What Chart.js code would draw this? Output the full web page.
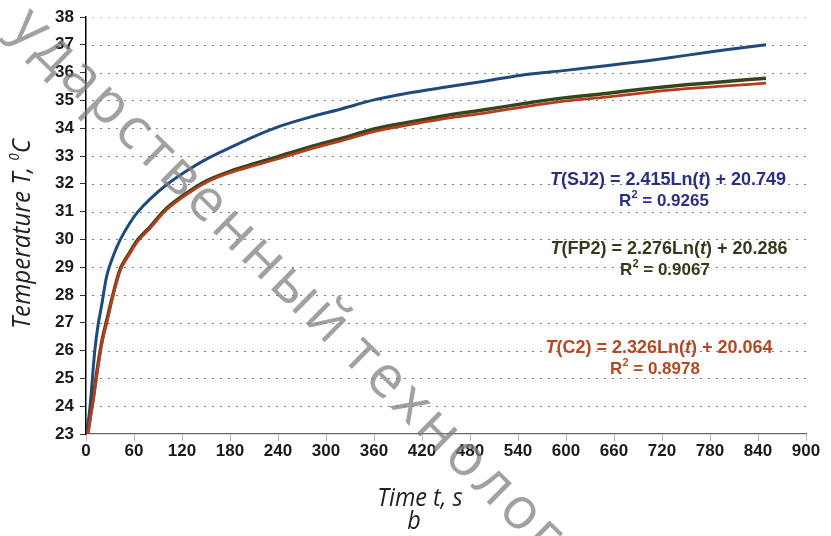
<!DOCTYPE html>
<html>
<head>
<meta charset="utf-8">
<script src="https://cdn.jsdelivr.net/npm/chart.js@4.4.1/dist/chart.umd.min.js"></script>
<style>
  html, body { margin: 0; padding: 0; background: #fff; }
  #wrap { width: 831px; height: 536px; }
</style>
</head>
<body>
<div id="wrap"><canvas id="tempChart" width="831" height="536"></canvas></div>
<script>
// time points, s
const timeSJ2 = [1, 2, 4, 6, 8, 11, 15, 20, 26, 34, 43, 55, 65, 80, 100, 125, 150, 180, 210, 240, 280, 320, 360, 400, 450, 500, 550, 600, 650, 700, 750, 800, 850];
const tempSJ2 = [23.0, 23.3, 23.7, 24.3, 25.0, 26.0, 26.9, 27.7, 28.7, 29.4, 30.0, 30.6, 31.0, 31.45, 31.95, 32.45, 32.88, 33.3, 33.7, 34.05, 34.4, 34.7, 35.02, 35.25, 35.48, 35.7, 35.93, 36.08, 36.25, 36.42, 36.62, 36.82, 37.0];

const timeFP2 = [2, 4, 6, 8, 11, 15, 20, 26, 34, 43, 55, 65, 80, 100, 125, 150, 180, 210, 240, 280, 320, 360, 400, 450, 500, 550, 600, 650, 700, 750, 800, 850];
const tempFP2 = [23.0, 23.35, 23.75, 24.1, 24.7, 25.5, 26.35, 27.1, 28.05, 28.95, 29.55, 30.0, 30.45, 31.1, 31.65, 32.1, 32.45, 32.72, 32.98, 33.33, 33.64, 33.97, 34.2, 34.46, 34.67, 34.9, 35.1, 35.25, 35.42, 35.56, 35.68, 35.8];

const timeC2 = [2, 4, 6, 8, 11, 15, 20, 26, 34, 43, 55, 65, 80, 100, 125, 150, 180, 210, 240, 280, 320, 360, 400, 450, 500, 550, 600, 650, 700, 750, 800, 850];
const tempC2 = [23.0, 23.3, 23.7, 24.0, 24.6, 25.4, 26.3, 27.0, 28.0, 28.9, 29.5, 29.95, 30.4, 31.05, 31.6, 32.05, 32.4, 32.65, 32.9, 33.25, 33.55, 33.88, 34.1, 34.35, 34.55, 34.78, 34.98, 35.12, 35.28, 35.42, 35.52, 35.62];

const xMin = 0, xMax = 900, xStep = 60;
const yMin = 23, yMax = 38, yStep = 1;

// trend-line equations shown on the chart
const equations = [
  {name: 'SJ2', a: '2.415', b: '20.749', r2: '0.9265', color: '#2a2f86', x: 668, y: 180},
  {name: 'FP2', a: '2.276', b: '20.286', r2: '0.9067', color: '#343a1c', x: 669, y: 249},
  {name: 'C2',  a: '2.326', b: '20.064', r2: '0.8978', color: '#b4481e', x: 659, y: 348}
];

const watermark = 'ударственный технолог';

const toXY = (xs, ys) => xs.map((t, i) => ({x: t, y: ys[i]}));

const FONT = '"Liberation Sans", Arial, sans-serif';
const TITLE_FONT = 'italic 26px "Open Sans", sans-serif';

function drawRuns(ctx, runs, cx, cy) {
  let total = 0;
  runs.forEach(r => {
    ctx.font = (r.italic ? 'italic ' : '') + 'bold ' + (r.size || 18) + 'px ' + FONT;
    r.w = ctx.measureText(r.text).width;
    total += r.w;
  });
  let x = cx - total / 2;
  runs.forEach(r => {
    ctx.font = (r.italic ? 'italic ' : '') + 'bold ' + (r.size || 18) + 'px ' + FONT;
    ctx.fillText(r.text, x, cy + (r.dy || 0));
    x += r.w;
  });
}

function narrowText(ctx, text, x, y) {
  ctx.save();
  ctx.translate(x, y);
  ctx.scale(0.9, 1);
  ctx.fillText(text, 0, 0);
  ctx.restore();
}

// dotted horizontal grid lines at the y ticks
const dottedGrid = {
  id: 'dottedGrid',
  beforeDatasetsDraw(chart) {
    const {ctx, chartArea, scales: {y}} = chart;
    ctx.save();
    ctx.lineWidth = 1;
    ctx.setLineDash([2, 6]);
    y.ticks.forEach(t => {
      if (t.value === yMin) return;
      const py = Math.round(y.getPixelForValue(t.value)) + 0.5;
      ctx.strokeStyle = t.value === yMax ? '#c4c4c4' : '#7a7a7a';
      ctx.beginPath();
      ctx.moveTo(chartArea.left + 6, py);
      ctx.lineTo(chartArea.right, py);
      ctx.stroke();
    });
    ctx.restore();
  }
};

const annotations = {
  id: 'annotations',
  afterDraw(chart) {
    const ctx = chart.ctx;
    ctx.save();
    ctx.textBaseline = 'middle';
    ctx.textAlign = 'left';

    equations.forEach(eq => {
      ctx.fillStyle = eq.color;
      drawRuns(ctx, [
        {text: 'T', italic: true},
        {text: '(' + eq.name + ') = ' + eq.a + 'Ln('},
        {text: 't', italic: true},
        {text: ') + ' + eq.b}
      ], eq.x, eq.y);
      drawRuns(ctx, [
        {text: 'R', size: 17},
        {text: '2', size: 11, dy: -6},
        {text: ' = ' + eq.r2, size: 17}
      ], eq.x - 4, eq.y + 21);
    });

    // axis titles
    ctx.fillStyle = '#222';
    ctx.font = TITLE_FONT;
    ctx.textAlign = 'center';
    narrowText(ctx, 'Time t, s', 420, 499);
    narrowText(ctx, 'b', 414, 522);

    ctx.save();
    ctx.translate(23, 234);
    ctx.rotate(-Math.PI / 2);
    ctx.scale(0.93, 1);
    const p1 = 'Temperature T, ', p2 = '0', p3 = 'C';
    ctx.font = TITLE_FONT;
    const w1 = ctx.measureText(p1).width, w3 = ctx.measureText(p3).width;
    ctx.font = 'italic 14px "Open Sans", sans-serif';
    const w2 = ctx.measureText(p2).width;
    let x = -(w1 + w2 + w3) / 2;
    ctx.textAlign = 'left';
    ctx.font = TITLE_FONT;
    ctx.fillText(p1, x, 0); x += w1;
    ctx.font = 'italic 14px "Open Sans", sans-serif';
    ctx.fillText(p2, x, -8); x += w2;
    ctx.font = TITLE_FONT;
    ctx.fillText(p3, x, 0);
    ctx.restore();

    // watermark, letter by letter with wide tracking
    ctx.save();
    ctx.translate(8, 30);
    ctx.rotate(Math.atan2(493, 500));
    ctx.font = '58px "Open Sans", sans-serif';
    ctx.textAlign = 'left';
    ctx.textBaseline = 'alphabetic';
    ctx.fillStyle = 'rgba(125,125,125,0.72)';
    let wx = 0;
    for (const ch of watermark) {
      ctx.fillText(ch, wx, 0);
      wx += ctx.measureText(ch).width + (ch === ' ' ? -2 : 4);
    }
    ctx.restore();

    ctx.restore();
  }
};

new Chart(document.getElementById('tempChart'), {
  type: 'scatter',
  data: {
    datasets: [
      {label: 'SJ2', data: toXY(timeSJ2, tempSJ2), borderColor: '#1f4a7c', borderWidth: 3, order: 3},
      {label: 'FP2', data: toXY(timeFP2, tempFP2), borderColor: '#34461f', borderWidth: 3.5, order: 2},
      {label: 'C2',  data: toXY(timeC2, tempC2),  borderColor: '#b53c1c', borderWidth: 2.8, order: 1}
    ].map(d => Object.assign(d, {showLine: true, pointRadius: 0, tension: 0.3, fill: false}))
  },
  options: {
    responsive: false,
    animation: false,
    layout: {padding: {top: 17, right: 25, left: 0, bottom: 0}},
    plugins: {legend: {display: false}, tooltip: {enabled: false}},
    scales: {
      x: {
        type: 'linear', min: xMin, max: xMax,
        afterFit: s => { s.height = 102; },
        ticks: {stepSize: xStep, color: '#1a1a1a', padding: 0, font: {family: FONT, size: 17, weight: 'bold'}},
        grid: {drawOnChartArea: false, drawTicks: true, tickLength: 7, tickColor: '#bbb'},
        border: {color: '#666', width: 1.2}
      },
      y: {
        min: yMin, max: yMax,
        afterFit: s => { s.width = 86; },
        ticks: {stepSize: yStep, color: '#1a1a1a', padding: 6, font: {family: FONT, size: 17, weight: 'bold'}},
        grid: {drawOnChartArea: false, drawTicks: true, tickLength: 6, tickColor: '#333'},
        border: {color: '#000', width: 1.5}
      }
    }
  },
  plugins: [dottedGrid, annotations]
});
</script>
</body>
</html>
